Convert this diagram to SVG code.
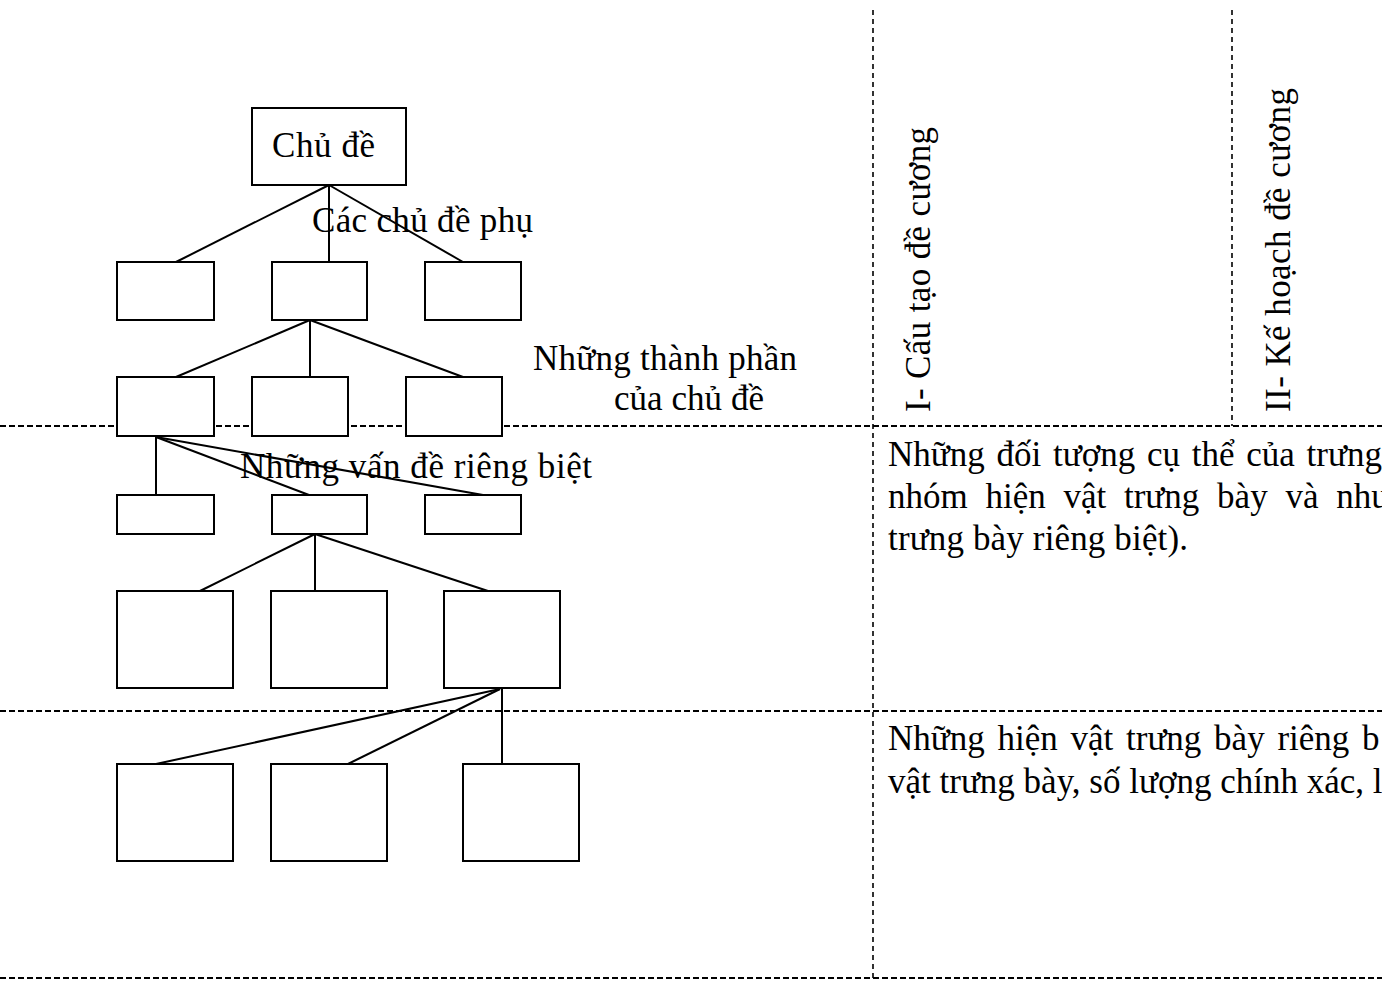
<svg xmlns="http://www.w3.org/2000/svg" width="1382" height="981" viewBox="0 0 1382 981">
<style>
  .bg { fill: #ffffff; }
  .grid { stroke: #000; stroke-width: 2; stroke-dasharray: 6 3; fill: none; }
  .vgrid { stroke: #000; stroke-width: 1.6; stroke-dasharray: 5 4; fill: none; }
  .box { fill: #ffffff; stroke: #000; stroke-width: 2; }
  .link { stroke: #000; stroke-width: 2; fill: none; }
  .t { font-family: "Liberation Serif", "Times New Roman", serif; font-size: 35px; fill: #000; }
</style>
<rect class="bg" x="0" y="0" width="1382" height="981"/>
<g id="grid">
  <line class="grid" x1="0" y1="426" x2="1382" y2="426"/>
  <line class="grid" x1="0" y1="711" x2="1382" y2="711"/>
  <line class="grid" x1="0" y1="978" x2="1382" y2="978"/>
  <line class="vgrid" x1="873" y1="10" x2="873" y2="981"/>
  <line class="vgrid" x1="1232" y1="10" x2="1232" y2="426"/>
</g>
<g id="connectors">
  <line class="link" x1="329" y1="185" x2="176" y2="262"/>
  <line class="link" x1="329" y1="185" x2="329" y2="262"/>
  <line class="link" x1="329" y1="185" x2="463" y2="262"/>
  <line class="link" x1="310" y1="320" x2="176" y2="377"/>
  <line class="link" x1="310" y1="320" x2="310" y2="377"/>
  <line class="link" x1="310" y1="320" x2="463" y2="377"/>
  <line class="link" x1="156" y1="437" x2="156" y2="495"/>
  <line class="link" x1="156" y1="437" x2="309" y2="495"/>
  <line class="link" x1="156" y1="437" x2="483" y2="495"/>
  <line class="link" x1="315" y1="534" x2="200" y2="591"/>
  <line class="link" x1="315" y1="534" x2="315" y2="591"/>
  <line class="link" x1="315" y1="534" x2="488" y2="591"/>
  <line class="link" x1="500" y1="689" x2="156" y2="764"/>
  <line class="link" x1="500" y1="689" x2="348" y2="764"/>
  <line class="link" x1="502" y1="689" x2="502" y2="764"/>
</g>
<g id="node-chu-de"><rect class="box" x="252" y="108" width="154" height="77"/></g>
<g id="node-l2-1"><rect class="box" x="117" y="262" width="97" height="58"/></g>
<g id="node-l2-2"><rect class="box" x="272" y="262" width="95" height="58"/></g>
<g id="node-l2-3"><rect class="box" x="425" y="262" width="96" height="58"/></g>
<g id="node-l3-1"><rect class="box" x="117" y="377" width="97" height="59"/></g>
<g id="node-l3-2"><rect class="box" x="252" y="377" width="96" height="59"/></g>
<g id="node-l3-3"><rect class="box" x="406" y="377" width="96" height="59"/></g>
<g id="node-l4-1"><rect class="box" x="117" y="495" width="97" height="39"/></g>
<g id="node-l4-2"><rect class="box" x="272" y="495" width="95" height="39"/></g>
<g id="node-l4-3"><rect class="box" x="425" y="495" width="96" height="39"/></g>
<g id="node-l5-1"><rect class="box" x="117" y="591" width="116" height="97"/></g>
<g id="node-l5-2"><rect class="box" x="271" y="591" width="116" height="97"/></g>
<g id="node-l5-3"><rect class="box" x="444" y="591" width="116" height="97"/></g>
<g id="node-l6-1"><rect class="box" x="117" y="764" width="116" height="97"/></g>
<g id="node-l6-2"><rect class="box" x="271" y="764" width="116" height="97"/></g>
<g id="node-l6-3"><rect class="box" x="463" y="764" width="116" height="97"/></g>
<g id="labels">
  <text class="t" x="272" y="157" textLength="103">Chủ đề</text>
  <text class="t" x="312" y="232" textLength="221">Các chủ đề phụ</text>
  <text class="t" x="533" y="370" textLength="264">Những thành phần</text>
  <text class="t" x="614" y="410" textLength="150">của chủ đề</text>
  <text class="t" x="240" y="478" textLength="352">Những vấn đề riêng biệt</text>
</g>
<g id="headings">
  <text class="t" transform="translate(930,412) rotate(-90)" textLength="285">I- Cấu tạo đề cương</text>
  <text class="t" transform="translate(1290,412) rotate(-90)" textLength="324">II- Kế hoạch đề cương</text>
</g>
<g id="desc-1">
  <text class="t" x="888" y="466" word-spacing="3">Những đối tượng cụ thể của trưng</text>
  <text class="t" x="888" y="508" word-spacing="9">nhóm hiện vật trưng bày và như</text>
  <text class="t" x="888" y="550" textLength="300">trưng bày riêng biệt).</text>
</g>
<g id="desc-2">
  <text class="t" x="888" y="750" word-spacing="4">Những hiện vật trưng bày riêng b</text>
  <text class="t" x="888" y="793">vật trưng bày, số lượng chính xác, l</text>
</g>
</svg>
